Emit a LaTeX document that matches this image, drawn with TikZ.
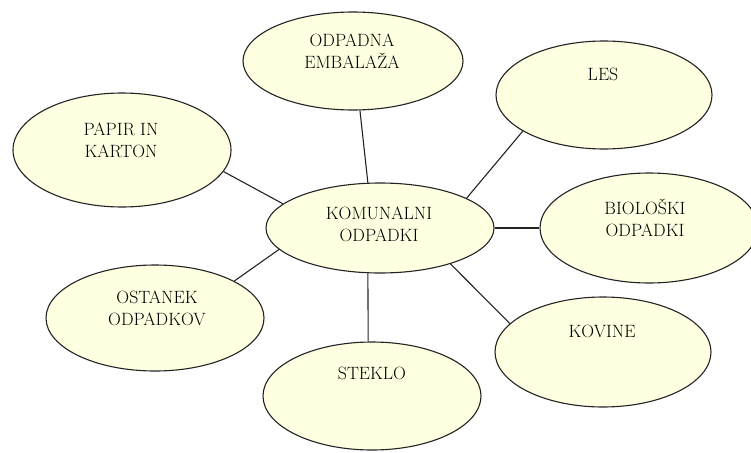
\documentclass[tikz,border=0pt]{standalone}
\usetikzlibrary{shapes.geometric}
\definecolor{bubblefill}{RGB}{255,255,225}
\definecolor{bubbleline}{RGB}{35,35,35}
\begin{document}
\begin{tikzpicture}[x=1pt,y=-1pt,
  bubble/.style={ellipse, draw=bubbleline, line width=1.1pt, fill=bubblefill, inner sep=0pt},
  lbl/.style={align=center, font=\fontsize{17.8}{22}\selectfont, inner sep=0pt, text=black},
  link/.style={draw=bubbleline, line width=1.1pt}]
\useasboundingbox (0,0) rectangle (751,452);
% ellipses
\node[bubble, minimum width=220pt, minimum height=98pt]  (odp) at (353,61)  {};
\node[bubble, minimum width=216pt, minimum height=108pt] (les) at (604,95)  {};
\node[bubble, minimum width=218pt, minimum height=114pt] (pap) at (122,150) {};
\node[bubble, minimum width=228pt, minimum height=90pt]  (kom) at (380,228) {};
\node[bubble, minimum width=218pt, minimum height=110pt] (bio) at (649,228) {};
\node[bubble, minimum width=218pt, minimum height=106pt] (ost) at (155,318) {};
\node[bubble, minimum width=216pt, minimum height=110pt] (kov) at (603,352) {};
\node[bubble, minimum width=218pt, minimum height=108pt] (ste) at (372,396) {};
% labels
\node[lbl] (odpt) at (352,51)  {ODPADNA\\EMBALAŽA};
\node[lbl] (lest) at (603,74)  {LES};
\node[lbl] (papt) at (121,140) {PAPIR IN\\KARTON};
\node[lbl] (komt) at (379,224) {KOMUNALNI\\ODPADKI};
\node[lbl] (biot) at (645,218) {BIOLOŠKI\\ODPADKI};
\node[lbl] (ostt) at (157,308) {OSTANEK\\ODPADKOV};
\node[lbl] (kovt) at (602,331) {KOVINE};
\node[lbl] (stet) at (372,373) {STEKLO};
% connectors
\draw[link] (kom.105) -- (odp.278);
\draw[link] (kom.166) -- (pap.348);
\draw[link] (kom.19)  -- (les.204);
\draw[link] (kom.0)   -- (bio.180);
\draw[link] (kom.192) -- (ost.25);
\draw[link] (kom.255) -- (ste.94);
\draw[link] (kom.333) -- (kov.163);
\end{tikzpicture}
\end{document}
